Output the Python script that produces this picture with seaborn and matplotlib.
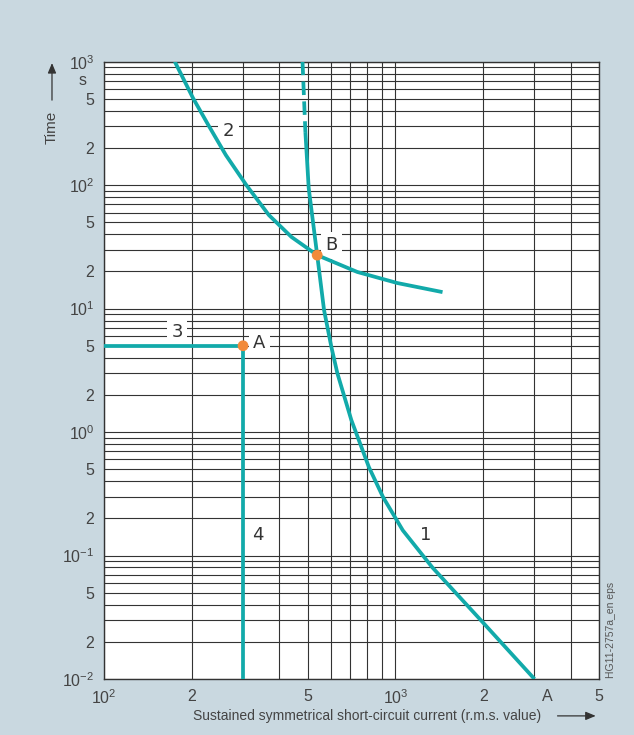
import matplotlib
matplotlib.use("Agg")
import matplotlib.pyplot as plt
import matplotlib.ticker as mticker
import matplotlib.transforms as mtransforms
from matplotlib.patches import FancyArrowPatch
import pandas as pd
import seaborn as sns

# Curve 1: fuse time-current characteristic (current in A, time in s)
fuse_current = [480, 491, 504, 539, 569, 603, 632, 706, 811, 907, 1060, 1337, 2007, 3000]
fuse_time = [1000, 269, 94.7, 27.1, 9.72, 4.88, 3.0, 1.25, 0.52, 0.297, 0.160, 0.0804, 0.0283, 0.01]
fuse_dashed_above = 269  # upper part of the fuse curve is drawn dashed

# Curve 2: overload (thermal) characteristic
overload_current = [175, 202, 228, 262, 308, 368, 440, 539, 740, 1016, 1451]
overload_time = [1000, 508, 307, 175, 100, 57.2, 38, 27.1, 19.8, 16.1, 13.6]

# Line 3 (time setting) and line 4 (current setting) meet at point A
point_a = (300, 5)
point_b = (539, 27.1)
line3_current = [100, 300]
line3_time = [5, 5]
line4_current = [300, 300]
line4_time = [5, 0.01]

curve_labels = ["1", "2", "3", "4", "A", "B"]
label_current = [1268, 267, 178, 336, 341, 603]
label_time = [0.146, 274, 6.45, 0.146, 5.25, 32.7]

x_ticks = [100, 200, 500, 1000, 2000, 5000]
x_tick_labels = ["$10^2$", "2", "5", "$10^3$", "2", "5"]
y_ticks = [1000, 500, 200, 100, 50, 20, 10, 5, 2, 1, 0.5, 0.2, 0.1, 0.05, 0.02, 0.01]
y_tick_labels = ["$10^3$", "5", "2", "$10^2$", "5", "2", "$10^1$", "5", "2",
                 "$10^0$", "5", "2", "$10^{-1}$", "5", "2", "$10^{-2}$"]

BG = "#c9d8e0"
TEAL = "#12aaaa"
ORANGE = "#f28a3a"
INK = "#333333"
TXT = "#444444"

sns.set_theme(style="white")
plt.rcParams["font.family"] = ["Liberation Sans", "DejaVu Sans"]
plt.rcParams["mathtext.default"] = "regular"

fig = plt.figure(figsize=(6.34, 7.35), dpi=100, facecolor=BG)
ax = fig.add_axes([0.164, 0.0762, 0.781, 0.8399])
ax.set_facecolor("white")
ax.set_xscale("log")
ax.set_yscale("log")
ax.set_xlim(100, 5000)
ax.set_ylim(0.01, 1000)

# grid: every 1..9 subdivision of each decade
ax.xaxis.set_major_locator(mticker.FixedLocator(x_ticks))
ax.xaxis.set_major_formatter(mticker.FixedFormatter(x_tick_labels))
ax.xaxis.set_minor_locator(mticker.FixedLocator([300, 400, 600, 700, 800, 900, 3000, 4000]))
ax.xaxis.set_minor_formatter(mticker.NullFormatter())
ax.yaxis.set_major_locator(mticker.FixedLocator(y_ticks))
ax.yaxis.set_major_formatter(mticker.FixedFormatter(y_tick_labels))
ax.yaxis.set_minor_locator(mticker.LogLocator(base=10, subs=[3, 4, 6, 7, 8, 9], numticks=20))
ax.yaxis.set_minor_formatter(mticker.NullFormatter())
ax.grid(True, which="both", color=INK, linewidth=0.8, zorder=1)
ax.set_axisbelow(True)
ax.tick_params(which="major", direction="out", length=5, width=0.9, color=INK,
               labelsize=11.5, labelcolor=TXT, pad=2)
ax.tick_params(which="minor", length=0)
for s in ax.spines.values():
    s.set_color(INK)
    s.set_linewidth(1.0)

# curve 1, dashed upper part + solid remainder
fuse = pd.DataFrame({"I": fuse_current, "t": fuse_time})
upper = fuse[fuse["t"] >= fuse_dashed_above]
lower = fuse[fuse["t"] <= fuse_dashed_above]
sns.lineplot(data=upper, x="I", y="t", sort=False, estimator=None, ax=ax,
             color=TEAL, linewidth=2.7, linestyle=(0, (3.6, 1.7)), zorder=4)
sns.lineplot(data=lower, x="I", y="t", sort=False, estimator=None, ax=ax,
             color=TEAL, linewidth=2.7, zorder=4, solid_capstyle="butt")

overload = pd.DataFrame({"I": overload_current, "t": overload_time})
sns.lineplot(data=overload, x="I", y="t", sort=False, estimator=None, ax=ax,
             color=TEAL, linewidth=2.7, zorder=4, solid_capstyle="butt")

sns.lineplot(x=line3_current, y=line3_time, sort=False, estimator=None, ax=ax,
             color=TEAL, linewidth=2.7, zorder=4, solid_capstyle="butt")
sns.lineplot(x=line4_current, y=line4_time, sort=False, estimator=None, ax=ax,
             color=TEAL, linewidth=2.7, zorder=4, solid_capstyle="butt")

sns.scatterplot(x=[point_a[0], point_b[0]], y=[point_a[1], point_b[1]], ax=ax,
                color=ORANGE, s=60, edgecolor="none", zorder=5)
ax.set_xlabel("")
ax.set_ylabel("")

for lab, cx, cy in zip(curve_labels, label_current, label_time):
    ax.text(cx, cy, lab, ha="center", va="center", fontsize=13, color=INK,
            family=["DejaVu Sans"], zorder=3,
            bbox=dict(boxstyle="square,pad=0.25", facecolor="white", edgecolor="none"))

# unit labels on the axes
ytrans = mtransforms.blended_transform_factory(ax.transAxes, ax.transData)
ax.text(-0.035, 700, "s", transform=ytrans, ha="right", va="center", fontsize=11.5, color=TXT)
xtrans = mtransforms.blended_transform_factory(ax.transData, ax.transAxes)
ax.text(3330, -0.016, "A", transform=xtrans, ha="center", va="top", fontsize=11.5, color=TXT)

# axis titles with arrows
fig.text(0.081, 0.827, "Time", rotation=90, ha="center", va="center", fontsize=11, color=TXT)
fig.add_artist(FancyArrowPatch(
    (0.082, 0.860), (0.082, 0.918), transform=fig.transFigure,
    arrowstyle="-|>,head_length=6,head_width=2.5", color="#333333", linewidth=0.9))
fig.text(0.305, 0.020, "Sustained symmetrical short-circuit current (r.m.s. value)",
         ha="left", va="baseline", fontsize=10, color=TXT)
fig.add_artist(FancyArrowPatch(
    (0.875, 0.026), (0.944, 0.026), transform=fig.transFigure,
    arrowstyle="-|>,head_length=6,head_width=2.5", color="#333333", linewidth=0.9))

fig.text(0.963, 0.143, "HG11-2757a_en eps", rotation=90, ha="center", va="center",
         fontsize=7.5, color="#555555")

fig.savefig("out.png", dpi=100, facecolor=BG)
